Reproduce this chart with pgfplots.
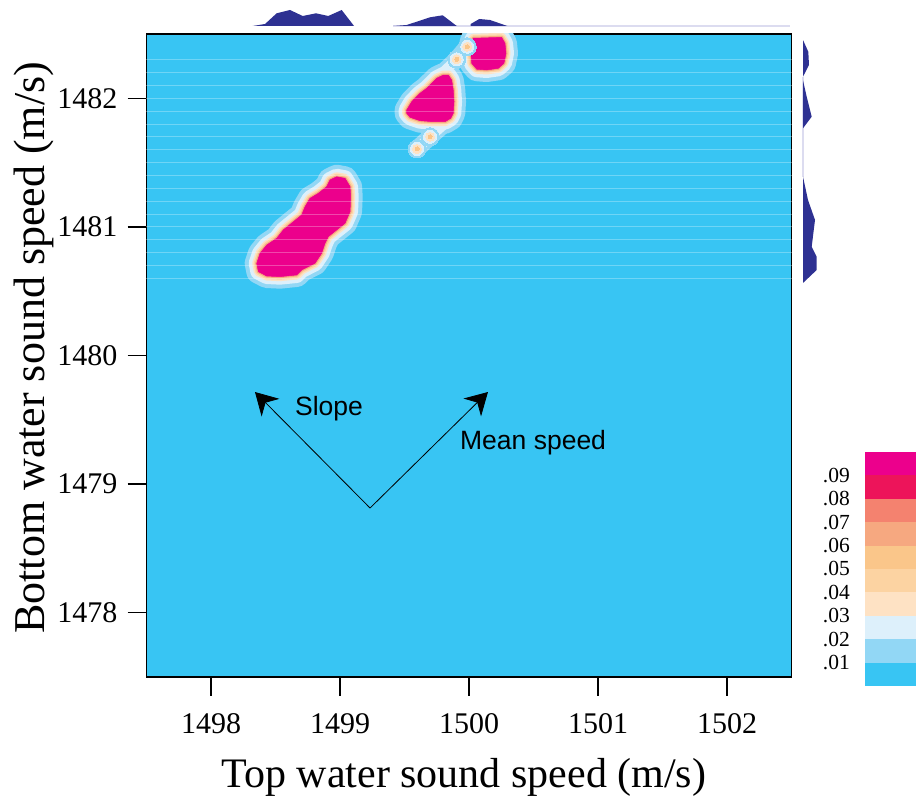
\documentclass[border=0pt]{standalone}
\usepackage{pgfplots}
\pgfplotsset{compat=1.18}
\usepackage{pgfplotstable}
\usepackage{fontspec}
\setmainfont{Liberation Serif}
\newfontfamily\annotfont{Liberation Sans}
\usetikzlibrary{arrows.meta}

% density levels, lowest to highest
\definecolor{bgcyan}{HTML}{38C5F3}
\definecolor{lev1}{HTML}{92D7F5}
\definecolor{lev2}{HTML}{DDF0FB}
\definecolor{lev3}{HTML}{FEE2C4}
\definecolor{lev4}{HTML}{FCD3A2}
\definecolor{lev5}{HTML}{FAC68A}
\definecolor{lev6}{HTML}{F6A880}
\definecolor{lev7}{HTML}{F4826F}
\definecolor{lev8}{HTML}{ED145A}
\definecolor{lev9}{HTML}{EC008C}
\definecolor{margblue}{HTML}{2E3192}
\definecolor{marglight}{HTML}{DCDCF0}

% high-density regions (outline of the top level)
\pgfplotstableread{
x y
1498.354 1480.717
1498.380 1480.795
1498.432 1480.859
1498.509 1480.911
1498.560 1480.976
1498.638 1481.040
1498.703 1481.093
1498.729 1481.157
1498.767 1481.222
1498.832 1481.261
1498.897 1481.313
1498.922 1481.365
1498.974 1481.390
1499.039 1481.378
1499.078 1481.313
1499.083 1481.235
1499.078 1481.118
1499.039 1481.028
1498.974 1480.976
1498.909 1480.924
1498.884 1480.872
1498.858 1480.795
1498.806 1480.717
1498.703 1480.665
1498.664 1480.626
1498.535 1480.613
1498.432 1480.618
1498.367 1480.652
}\blobA

\pgfplotstableread{
x y
1499.517 1481.909
1499.556 1481.974
1499.620 1482.039
1499.672 1482.078
1499.711 1482.117
1499.750 1482.156
1499.801 1482.181
1499.840 1482.181
1499.866 1482.142
1499.878 1482.065
1499.884 1481.974
1499.878 1481.883
1499.858 1481.844
1499.814 1481.818
1499.723 1481.818
1499.620 1481.826
1499.543 1481.852
1499.517 1481.883
}\blobB

\pgfplotstableread{
x y
1500.033 1482.467
1500.253 1482.474
1500.279 1482.428
1500.287 1482.350
1500.271 1482.272
1500.227 1482.233
1500.137 1482.220
1500.060 1482.226
1500.021 1482.272
1500.013 1482.376
1500.021 1482.440
}\blobC

% thin ridges joining the regions, traced out and back
\pgfplotstableread{
x y
1499.597 1481.606
1499.698 1481.701
1499.801 1481.792
1499.698 1481.701
}\ridgeLow

\pgfplotstableread{
x y
1499.801 1482.205
1499.905 1482.303
1499.987 1482.401
1500.039 1482.453
1499.987 1482.401
1499.905 1482.303
}\ridgeUp

\pgfplotstableread{
x y
1499.597 1481.606
1499.698 1481.701
1499.905 1482.303
1499.987 1482.401
}\ridgeDots

\newcommand{\blobs}[2]{%
  \addplot[draw=#1, fill=#1, line width=#2, line join=round] table {\blobA} -- cycle;
  \addplot[draw=#1, fill=#1, line width=#2, line join=round] table {\blobB} -- cycle;
  \addplot[draw=#1, fill=#1, line width=#2, line join=round] table {\blobC} -- cycle;
}
\newcommand{\ridges}[2]{%
  \addplot[draw=#1, fill=#1, line width=#2, line join=round] table {\ridgeLow} -- cycle;
  \addplot[draw=#1, fill=#1, line width=#2, line join=round] table {\ridgeUp} -- cycle;
}
\newcommand{\ridgedots}[2]{%
  \addplot[only marks, color=#1, mark=*, mark size=#2,
    mark options={draw=#1, fill=#1, line width=0pt}] table {\ridgeDots};
}

\begin{document}
\begin{tikzpicture}
\useasboundingbox (0,0) rectangle (916pt,801pt);

% main density panel
\begin{axis}[
  at={(146.5pt,124pt)}, anchor=south west,
  scale only axis, width=645pt, height=643pt,
  xmin=1497.5, xmax=1502.5, ymin=1477.5, ymax=1482.5,
  xtick={1498,1499,1500,1501,1502},
  ytick={1478,1479,1480,1481,1482},
  tick pos=left, tick align=outside,
  major tick length=19pt,
  major tick style={line width=1.3pt, black},
  axis line style={line width=1.8pt, black},
  axis background/.style={fill=bgcyan},
  /pgf/number format/1000 sep={},
  /pgf/number format/assume math mode=true,
  ticklabel style={font=\fontsize{30}{30}\selectfont, inner sep=0pt},
  xticklabel shift=17pt,
  yticklabel shift=10pt,
  every axis x label/.style={at={(axis description cs:0.492,-0.1726)}, anchor=base,
    font=\fontsize{42}{42}\selectfont},
  every axis y label/.style={at={(axis description cs:-0.1574,0.512)}, anchor=base, rotate=90,
    font=\fontsize{44}{44}\selectfont},
  xlabel={Top water sound speed (m/s)},
  ylabel={Bottom water sound speed (m/s)},
]
% faint raster rows
\addplot[only marks, mark=-, mark size=322.5pt,
  mark options={draw=white, opacity=0.28, line width=0.9pt}] coordinates {
  (1500,1480.6) (1500,1480.7) (1500,1480.8) (1500,1480.9) (1500,1481.0)
  (1500,1481.1) (1500,1481.2) (1500,1481.3) (1500,1481.4) (1500,1481.5)
  (1500,1481.6) (1500,1481.7) (1500,1481.8) (1500,1481.9) (1500,1482.0)
  (1500,1482.1) (1500,1482.2) (1500,1482.3)};

% nested density levels
\blobs{lev1}{24pt}
\ridges{lev1}{17pt}
\ridgedots{lev1}{9pt}
\blobs{lev2}{16pt}
\ridges{lev2}{10pt}
\ridgedots{lev2}{6.5pt}
\blobs{lev3}{9pt}
\ridgedots{lev3}{4.5pt}
\blobs{lev4}{6pt}
\ridgedots{lev5}{2pt}
\blobs{lev6}{3pt}
\blobs{lev9}{0.5pt}

% principal directions
\addplot[-{Stealth[length=22pt,width=25pt,inset=7pt]}, line width=0.8pt, black]
  coordinates {(1499.233,1478.814) (1498.341,1479.716)};
\addplot[-{Stealth[length=22pt,width=25pt,inset=7pt]}, line width=0.8pt, black]
  coordinates {(1499.233,1478.814) (1500.147,1479.716)};
\node[anchor=base west, inner sep=0pt, font=\annotfont\fontsize{26.5}{30}\selectfont]
  at (axis cs:1498.651,1479.530) {Slope};
\node[anchor=base west, inner sep=0pt, font=\annotfont\fontsize{26.5}{30}\selectfont]
  at (axis cs:1499.930,1479.271) {Mean speed};
\end{axis}

% marginal density of the top speed
\begin{axis}[
  at={(146.5pt,775pt)}, anchor=south west,
  scale only axis, width=645pt, height=20pt,
  xmin=1497.5, xmax=1502.5, ymin=0, ymax=20,
  hide axis, clip=false,
]
\addplot[draw=marglight, line width=1.5pt] coordinates {(1499.413,0) (1502.49,0)};
\addplot[fill=margblue, draw=none] coordinates {
  (1498.323,0) (1498.419,2) (1498.509,12.7) (1498.612,16) (1498.711,10)
  (1498.814,12.7) (1498.909,10) (1499.013,16) (1499.109,0)} -- cycle;
\addplot[fill=margblue, draw=none] coordinates {
  (1499.413,0) (1499.517,1) (1499.698,8.7) (1499.796,10.7) (1499.905,0)} -- cycle;
\addplot[fill=margblue, draw=none] coordinates {
  (1500.013,0) (1500.013,2) (1500.080,7) (1500.163,6) (1500.297,0)} -- cycle;
\end{axis}

% marginal density of the bottom speed
\begin{axis}[
  at={(803pt,124pt)}, anchor=south west,
  scale only axis, width=20pt, height=643pt,
  xmin=0, xmax=20, ymin=1477.5, ymax=1482.5,
  hide axis, clip=false,
]
\addplot[draw=marglight, line width=1.5pt] coordinates {(0,1482.168) (0,1481.390)};
\addplot[fill=margblue, draw=none] coordinates {
  (0,1482.453) (5.3,1482.362) (6,1482.259) (0,1482.168)} -- cycle;
\addplot[fill=margblue, draw=none] coordinates {
  (0,1482.140) (3.7,1482.012) (8.7,1481.857) (0,1481.767)} -- cycle;
\addplot[fill=margblue, draw=none] coordinates {
  (0,1481.390) (5,1481.209) (12,1481.054) (8.7,1480.846) (13.7,1480.768)
  (13.7,1480.665) (0,1480.564)} -- cycle;
\end{axis}

% colour key
\begin{axis}[
  at={(865pt,115pt)}, anchor=south west,
  scale only axis, width=51pt, height=234pt,
  xmin=0, xmax=1, ymin=0, ymax=10,
  axis line style={draw=none}, tick style={draw=none},
  xtick=\empty,
  ytick={1,2,3,4,5,6,7,8,9},
  yticklabels={.01,.02,.03,.04,.05,.06,.07,.08,.09},
  yticklabel style={font=\fontsize{21.5}{21.5}\selectfont, inner sep=0pt},
  yticklabel shift=15pt,
]
\addplot[fill=bgcyan, draw=none] coordinates {(0,0) (1,0) (1,1) (0,1)} -- cycle;
\addplot[fill=lev1, draw=none] coordinates {(0,1) (1,1) (1,2) (0,2)} -- cycle;
\addplot[fill=lev2, draw=none] coordinates {(0,2) (1,2) (1,3) (0,3)} -- cycle;
\addplot[fill=lev3, draw=none] coordinates {(0,3) (1,3) (1,4) (0,4)} -- cycle;
\addplot[fill=lev4, draw=none] coordinates {(0,4) (1,4) (1,5) (0,5)} -- cycle;
\addplot[fill=lev5, draw=none] coordinates {(0,5) (1,5) (1,6) (0,6)} -- cycle;
\addplot[fill=lev6, draw=none] coordinates {(0,6) (1,6) (1,7) (0,7)} -- cycle;
\addplot[fill=lev7, draw=none] coordinates {(0,7) (1,7) (1,8) (0,8)} -- cycle;
\addplot[fill=lev8, draw=none] coordinates {(0,8) (1,8) (1,9) (0,9)} -- cycle;
\addplot[fill=lev9, draw=none] coordinates {(0,9) (1,9) (1,10) (0,10)} -- cycle;
\end{axis}
\end{tikzpicture}
\end{document}
